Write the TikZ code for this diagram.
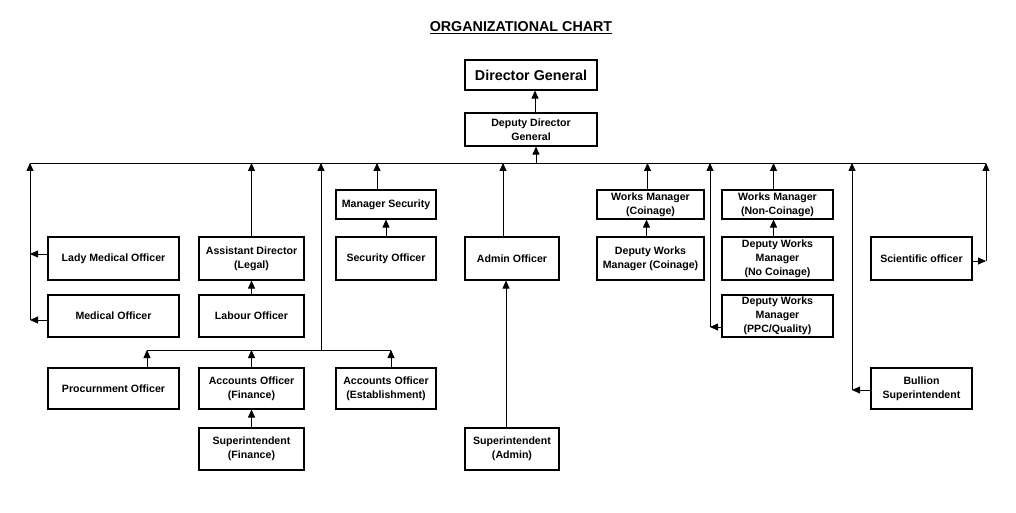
\documentclass[tikz,border=0pt]{standalone}
\usepackage{fontspec}
\setmainfont{Liberation Sans}
\usetikzlibrary{arrows.meta}

\tikzset{
  post/.style={draw, line width=1.1pt, align=center, inner sep=0pt,
    font=\bfseries\fontsize{10.6}{14}\selectfont},
  arr/.style={line width=0.8pt, -{Triangle[length=8pt,width=7pt]}},
  link/.style={line width=0.8pt}
}

\begin{document}
\begin{tikzpicture}[x=1pt,y=-1pt]
        \def\colA{131pt} % column widths
        \def\colB{105pt}
        \def\colC{100pt}
        \def\colD{94pt}
        \def\colE{107pt}
        \def\colF{111pt}
        \def\colG{101pt}
        \useasboundingbox (0,0) rectangle (1016,513);

        % Title
        \node[font=\bfseries\fontsize{14.3}{17}\selectfont] (title) at (521,28) {\underline{ORGANIZATIONAL CHART}};

        % Top of the chart
        \node[post, minimum width=132pt, minimum height=30pt, font=\bfseries\fontsize{14.3}{17}\selectfont] (dg) at (531,75) {Director General};
        \node[post, minimum width=132pt, minimum height=33pt] (ddg) at (531,129.5) {Deputy Director\\General};

        % Boxes
        \node[post, minimum width=\colA, minimum height=43pt] (lmo) at (113.5,258.5) {Lady Medical Officer};
        \node[post, minimum width=\colA, minimum height=42pt] (mo) at (113.5,316) {Medical Officer};
        \node[post, minimum width=\colA, minimum height=41pt] (proc) at (113.5,388.5) {Procurnment Officer};
        \node[post, minimum width=\colB, minimum height=43pt] (ad) at (251.5,258.5) {Assistant Director\\(Legal)};
        \node[post, minimum width=\colB, minimum height=42pt] (lab) at (251.5,316) {Labour Officer};
        \node[post, minimum width=\colB, minimum height=41pt] (aof) at (251.5,388.5) {Accounts Officer\\(Finance)};
        \node[post, minimum width=\colB, minimum height=42pt] (sf) at (251.5,449) {Superintendent\\(Finance)};
        \node[post, minimum width=\colC, minimum height=29pt] (ms) at (386,204.5) {Manager Security};
        \node[post, minimum width=\colC, minimum height=43pt] (so) at (386,258.5) {Security Officer};
        \node[post, minimum width=\colC, minimum height=41pt] (aoe) at (386,388.5) {Accounts Officer\\(Establishment)};
        \node[post, minimum width=\colD, minimum height=43pt] (ao) at (512,258.5) {Admin Officer};
        \node[post, minimum width=\colD, minimum height=42pt] (sa) at (512,449) {Superintendent\\(Admin)};
        \node[post, minimum width=\colE, minimum height=29pt] (wmc) at (650.5,204.5) {Works Manager\\(Coinage)};
        \node[post, minimum width=\colE, minimum height=43pt] (dwc) at (650.5,258.5) {Deputy Works\\Manager (Coinage)};
        \node[post, minimum width=\colF, minimum height=29pt] (wmn) at (777.5,204.5) {Works Manager\\(Non-Coinage)};
        \node[post, minimum width=\colF, minimum height=43pt] (dwn) at (777.5,258.5) {Deputy Works\\Manager\\(No Coinage)};
        \node[post, minimum width=\colF, minimum height=42pt] (ppc) at (777.5,316) {Deputy Works\\Manager\\(PPC/Quality)};
        \node[post, minimum width=\colG, minimum height=43pt] (sci) at (921.5,258.5) {Scientific officer};
        \node[post, minimum width=\colG, minimum height=41pt] (bul) at (921.5,388.5) {Bullion\\Superintendent};

        % Main bus
        \coordinate (busl) at (30,163);
        \coordinate (busr) at (986,163);
        \draw[link] (busl) -- (busr);

        % Bus -> deputy director -> director
        \draw[arr] ([xshift=5pt]ddg.south |- busl) -- ([xshift=5pt]ddg.south);
        \draw[arr] ([xshift=4pt]ddg.north) -- ([xshift=4pt]dg.south);

        % Medical leg
        \coordinate (legm) at (30,320);
        \draw[arr] (legm) -- (busl);
        \draw[arr] ([yshift=4.5pt]lmo.west) -- ([yshift=4.5pt]lmo.west -| legm);
        \draw[arr] ([yshift=-4pt]mo.west) -- (legm);

        % Legal
        \draw[arr] (ad.north) -- (ad.north |- busl);
        \draw[arr] (lab.north) -- (ad.south);

        % Accounts leg
        \coordinate (legs) at (321,350);
        \coordinate (subl) at (147,350);
        \coordinate (subr) at (391,350);
        \draw[arr] (legs) -- (legs |- busl);
        \draw[link] (subl) -- (subr);
        \draw[arr] (proc.north -| subl) -- (subl);
        \draw[arr] (aof.north) -- (aof.north |- subl);
        \draw[arr] (aoe.north -| subr) -- (subr);
        \draw[arr] (sf.north) -- (aof.south);

        % Security
        \draw[arr] ([xshift=-9pt]ms.north) -- ([xshift=-9pt]ms.north |- busl);
        \draw[arr] (so.north) -- (ms.south);

        % Admin
        \draw[arr] ([xshift=-9pt]ao.north) -- ([xshift=-9pt]ao.north |- busl);
        \draw[arr] ([xshift=-6pt]sa.north) -- ([xshift=-6pt]ao.south);

        % Works
        \draw[arr] ([xshift=-3pt]wmc.north) -- ([xshift=-3pt]wmc.north |- busl);
        \draw[arr] ([xshift=-4pt]dwc.north) -- ([xshift=-4pt]wmc.south);
        \draw[arr] ([xshift=-4pt]wmn.north) -- ([xshift=-4pt]wmn.north |- busl);
        \draw[arr] ([xshift=-4pt]dwn.north) -- ([xshift=-4pt]wmn.south);

        % Quality leg
        \coordinate (legq) at (710,327);
        \draw[arr] (legq) -- (legq |- busl);
        \draw[arr] ([yshift=-11pt]ppc.west) -- (legq);

        % Bullion leg
        \coordinate (legb) at (852,390);
        \draw[arr] (legb) -- (legb |- busl);
        \draw[arr] ([yshift=-1.5pt]bul.west) -- (legb);

        % Scientific leg
        \coordinate (legc) at (986,261);
        \draw[arr] (legc) -- (busr);
        \draw[arr] ([yshift=-2.5pt]sci.east) -- (legc);
\end{tikzpicture}
\end{document}
